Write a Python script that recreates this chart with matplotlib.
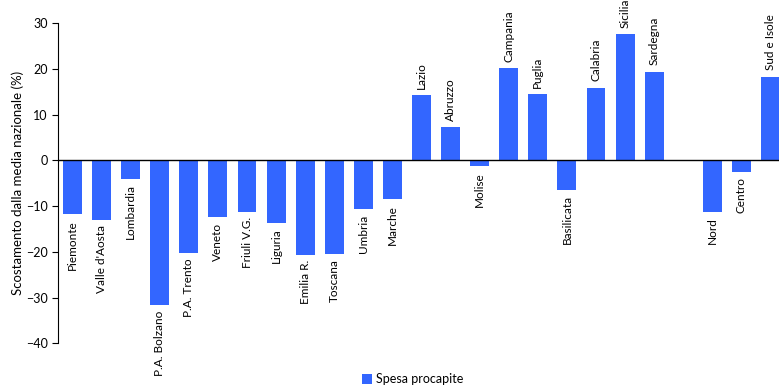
import matplotlib.pyplot as plt

plt.rcParams['font.family'] = ['Lato', 'DejaVu Sans']

# regions (an empty slot separates them from the macro areas)
regions = ["Piemonte", "Valle d'Aosta", "Lombardia", "P.A. Bolzano", "P.A. Trento",
           "Veneto", "Friuli V.G.", "Liguria", "Emilia R.", "Toscana", "Umbria",
           "Marche", "Lazio", "Abruzzo", "Molise", "Campania", "Puglia",
           "Basilicata", "Calabria", "Sicilia", "Sardegna"]
region_vals = [-11.8, -13.0, -4.0, -31.6, -20.3, -12.5, -11.2, -13.6, -20.6, -20.4,
               -10.7, -8.5, 14.2, 7.2, -1.3, 20.1, 14.4, -6.4, 15.9, 27.5, 19.4]

areas = ["Nord", "Centro", "Sud e Isole"]
area_vals = [-11.2, -2.5, 18.3]

labels = regions + areas
values = region_vals + area_vals
pos = list(range(len(regions))) + [len(regions) + 1 + i for i in range(len(areas))]

fig = plt.figure(figsize=(7.79, 3.85), dpi=100)
ax = fig.add_axes([58 / 779, 41.7 / 385, 727 / 779, 320.3 / 385])

ax.bar(pos, values, width=0.65, color='#3366ff', label='Spesa procapite', zorder=2)
ax.axhline(0, color='black', lw=1.0, zorder=3)

for x, v, name in zip(pos, values, labels):
    if v >= 0:
        ax.annotate(name, (x, v), xytext=(0, 4.5), textcoords='offset points',
                    rotation=90, ha='center', va='bottom', fontsize=8.5)
    else:
        ax.annotate(name, (x, v), xytext=(0, -4), textcoords='offset points',
                    rotation=90, ha='center', va='top', fontsize=8.5)

ax.set_xlim(-0.5, pos[-1] + 0.5)
ax.set_ylim(-40, 30)
ax.set_yticks(range(-40, 31, 10))
ax.set_xticks([])
ax.tick_params(axis='y', labelsize=9, length=4, direction='out')
for s in ['top', 'right', 'bottom']:
    ax.spines[s].set_visible(False)
ax.set_ylabel("Scostamento dalla media nazionale (%)", fontsize=9.5, labelpad=1)

fig.legend(loc='lower center', bbox_to_anchor=(0.53, -0.03), frameon=False,
           fontsize=9, handlelength=0.8, handleheight=0.8, handletextpad=0.3)

fig.savefig('out.png', dpi=100)
